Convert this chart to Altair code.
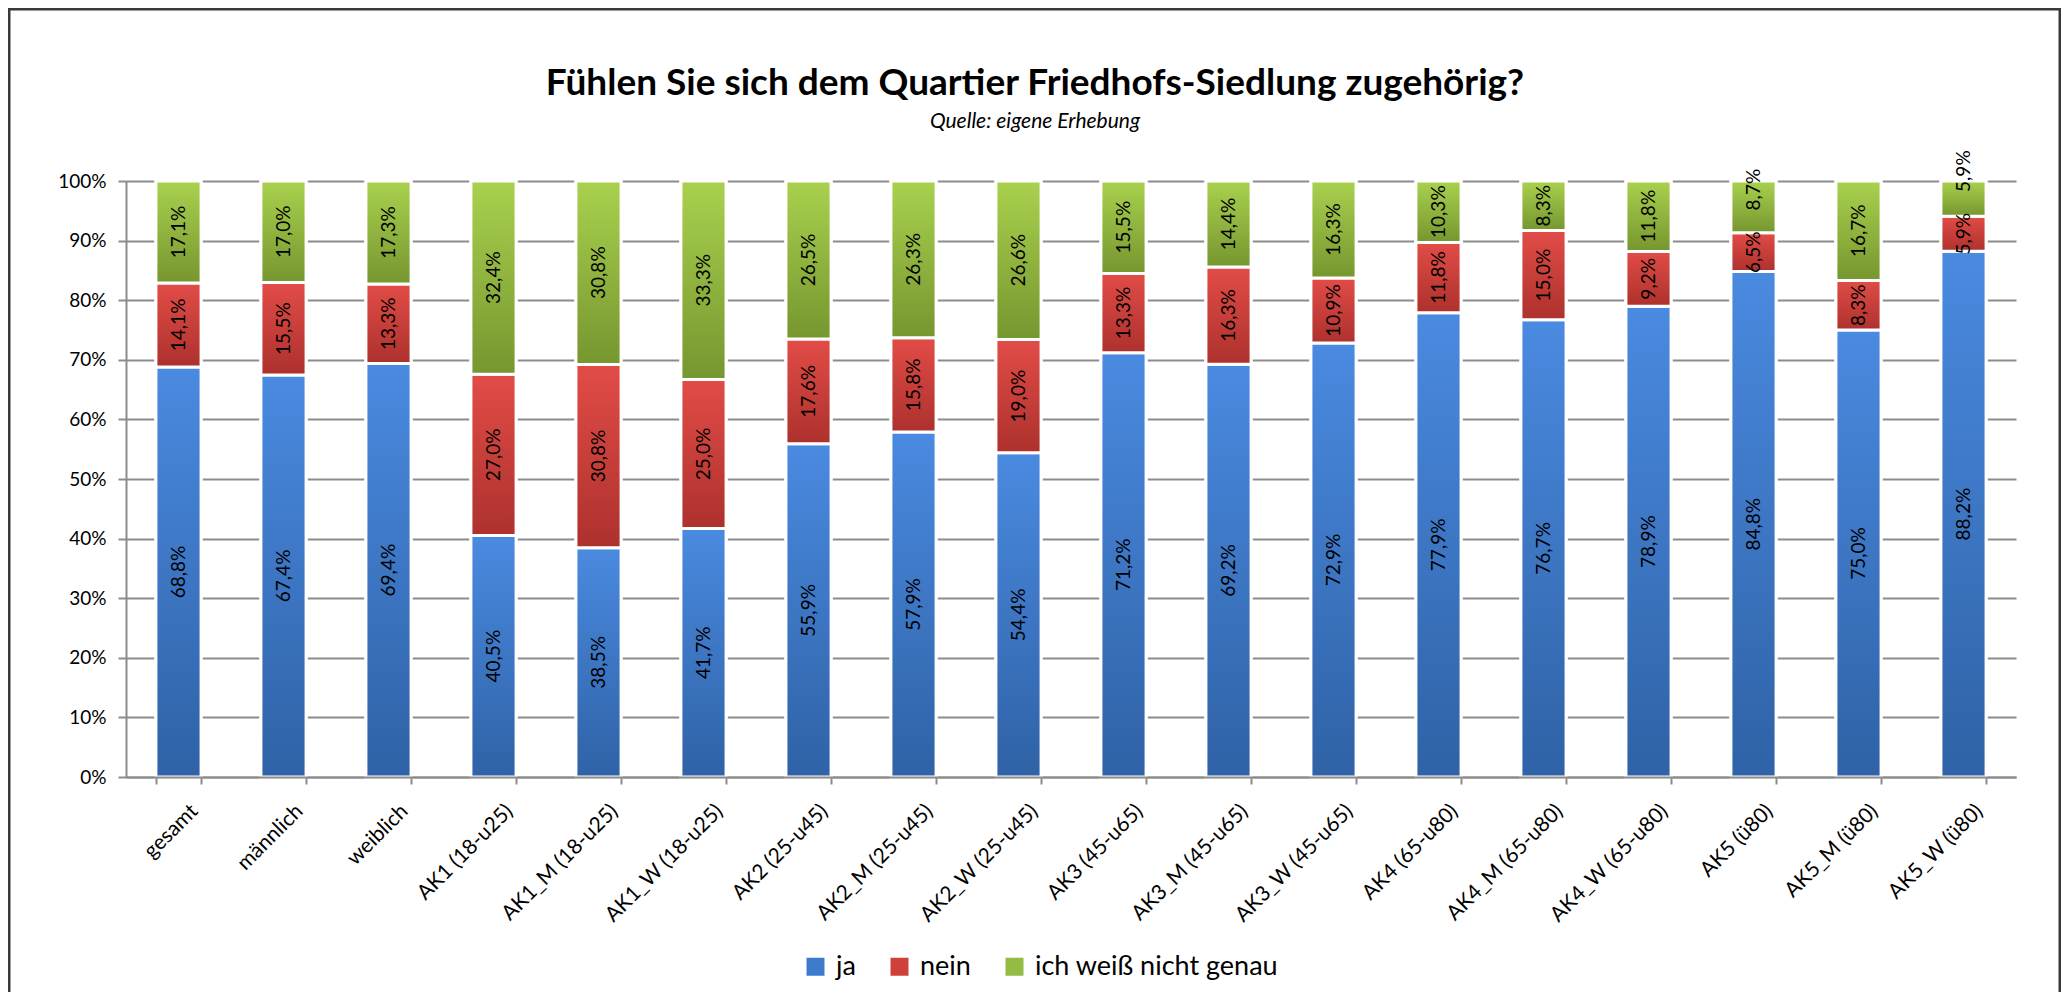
import altair as alt
import pandas as pd

categories = ["gesamt", "männlich", "weiblich",
              "AK1 (18-u25)", "AK1_M (18-u25)", "AK1_W (18-u25)",
              "AK2 (25-u45)", "AK2_M (25-u45)", "AK2_W (25-u45)",
              "AK3 (45-u65)", "AK3_M (45-u65)", "AK3_W (45-u65)",
              "AK4 (65-u80)", "AK4_M (65-u80)", "AK4_W (65-u80)",
              "AK5 (ü80)", "AK5_M (ü80)", "AK5_W (ü80)"]
ja = [68.8, 67.4, 69.4, 40.5, 38.5, 41.7, 55.9, 57.9, 54.4,
      71.2, 69.2, 72.9, 77.9, 76.7, 78.9, 84.8, 75.0, 88.2]
nein = [14.1, 15.5, 13.3, 27.0, 30.8, 25.0, 17.6, 15.8, 19.0,
        13.3, 16.3, 10.9, 11.8, 15.0, 9.2, 6.5, 8.3, 5.9]
weiss_nicht = [17.1, 17.0, 17.3, 32.4, 30.8, 33.3, 26.5, 26.3, 26.6,
               15.5, 14.4, 16.3, 10.3, 8.3, 11.8, 8.7, 16.7, 5.9]
series = ["ja", "nein", "ich weiß nicht genau"]
flat_colors = ["#3d7ccc", "#d0403b", "#94bb42"]
light_colors = ["#4a8ae0", "#e24c47", "#a9d14e"]
dark_colors = ["#2f62a6", "#ad312d", "#76962f"]

title_text = "Fühlen Sie sich dem Quartier Friedhofs-Siedlung zugehörig?"
subtitle_text = "Quelle: eigene Erhebung"

rows = []
for i, cat in enumerate(categories):
    for k, vals in enumerate([ja, nein, weiss_nicht]):
        v = vals[i]
        rows.append({"cat": cat, "serie": series[k], "order": k, "val": v,
                     "label": f"{v:.1f}%".replace(".", ",")})
df = pd.DataFrame(rows)

FONT = "Lato"
GRAY = "#8c8c8c"
W, H = 1890, 596
LABEL_GAP = 0.105  # minimum spacing between stacked label centres (fraction of axis)

x_enc = alt.X("cat:N", sort=categories,
              scale=alt.Scale(paddingInner=0.57, paddingOuter=0.285),
              axis=alt.Axis(title=None, labelAngle=-45, labelAlign="right",
                            labelBaseline="top", labelFont=FONT, labelFontSize=21,
                            labelColor="black", tickBand="extent", tickSize=7,
                            tickColor=GRAY, tickWidth=2, domainColor=GRAY,
                            domainWidth=2, labelPadding=16, labelOffset=8,
                            labelLimit=0, zindex=1))
y_enc = alt.Y("y0:Q", scale=alt.Scale(domain=[0, 1], nice=False),
              axis=alt.Axis(title=None, format=".0%",
                            values=[0, 0.1, 0.2, 0.3, 0.4, 0.5, 0.6, 0.7, 0.8, 0.9, 1.0],
                            labelFont=FONT, labelFontSize=19, labelColor="black",
                            tickSize=8, tickColor=GRAY, tickWidth=2,
                            domainColor=GRAY, domainWidth=2,
                            grid=True, gridColor=GRAY, gridWidth=2,
                            labelPadding=12))

base = alt.Chart(df).transform_stack(
    stack="val", groupby=["cat"], as_=["y0", "y1"], offset="normalize",
    sort=[alt.SortField("order", order="ascending")]
)

legend_bars = base.mark_bar(stroke="white", strokeWidth=3).encode(
    x=x_enc, y=y_enc, y2="y1:Q",
    color=alt.Color("serie:N", sort=series,
                    scale=alt.Scale(domain=series, range=flat_colors),
                    legend=alt.Legend(title=None, orient="none", direction="horizontal",
                                      legendX=676, legendY=772,
                                      symbolType="square", symbolSize=324,
                                      symbolStrokeWidth=0, labelFont=FONT,
                                      labelFontSize=27, labelColor="black",
                                      labelOffset=7, columnPadding=30, padding=0,
                                      labelLimit=0)),
)

grad_layers = []
for k, s in enumerate(series):
    grad = {"gradient": "linear", "x1": 0, "y1": 0, "x2": 0, "y2": 1,
            "stops": [{"offset": 0, "color": light_colors[k]},
                      {"offset": 1, "color": dark_colors[k]}]}
    grad_layers.append(
        base.transform_filter(alt.datum.serie == s).mark_bar(
            fill=grad, stroke="white", strokeWidth=3
        ).encode(x=x_enc, y=y_enc, y2="y1:Q")
    )

labels = base.transform_calculate(
    mid="(datum.y0 + datum.y1) / 2"
).transform_window(
    window=[alt.WindowFieldDef(op="lag", field="mid", param=1, **{"as": "prev_mid"})],
    groupby=["cat"], sort=[alt.SortField("order", order="ascending")]
).transform_calculate(
    lab_y=f"datum.order == 2 ? max(datum.mid, datum.prev_mid + {LABEL_GAP}) : datum.mid"
).mark_text(
    angle=270, font=FONT, fontSize=19, color="black", align="center", baseline="middle"
).encode(x=x_enc, y=alt.Y("lab_y:Q"), text="label:N")

frame = alt.Chart(alt.Data(values=[{"f": 1}])).mark_rect(
    fill=None, stroke="#3a3a3a", strokeWidth=3
).encode(x=alt.value(-117), x2=alt.value(1934), y=alt.value(-172), y2=alt.value(840))

chart = alt.layer(frame, legend_bars, *grad_layers, labels).properties(
    width=W, height=H,
    autosize=alt.AutoSizeParams(type="none"),
    padding={"left": 118, "top": 173, "right": 45, "bottom": 215},
    title=alt.TitleParams(text=title_text, subtitle=subtitle_text, font=FONT,
                          fontSize=37, fontWeight="bold", color="black",
                          subtitleFont=FONT, subtitleFontSize=21,
                          subtitleFontStyle="italic", subtitleColor="black",
                          subtitlePadding=8, anchor="middle", frame="group",
                          dx=-36, offset=-125),
).configure_view(stroke=None)

chart.save("out.html", embed_options={"renderer": "svg", "actions": False})
